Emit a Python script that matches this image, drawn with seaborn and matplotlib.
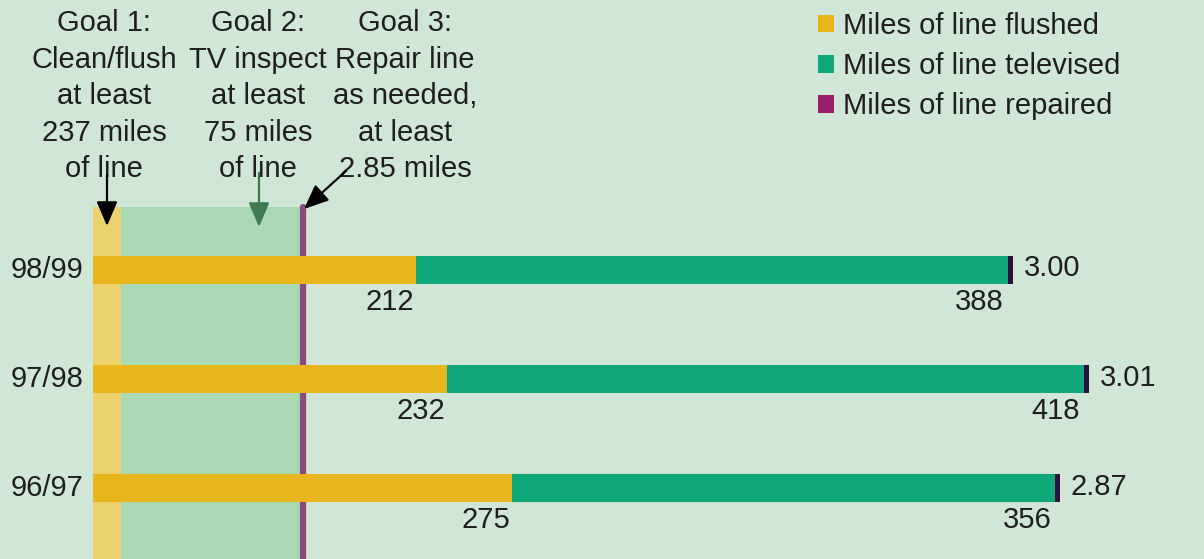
import numpy as np
import pandas as pd
import seaborn as sns
import matplotlib
matplotlib.use("Agg")
import matplotlib.pyplot as plt
from matplotlib.patches import Patch
from matplotlib.transforms import blended_transform_factory

# ---------------- data ----------------
years = ["98/99", "97/98", "96/97"]
flushed = [212, 232, 275]
televised = [388, 418, 356]
repaired = [3.00, 3.01, 2.87]
repaired_labels = ["3.00", "3.01", "2.87"]

series_labels = ["Miles of line flushed", "Miles of line televised", "Miles of line repaired"]
goal_lines = [
    ["Goal 1:", "Clean/flush", "at least", "237 miles", "of line"],
    ["Goal 2:", "TV inspect", "at least", "75 miles", "of line"],
    ["Goal 3:", "Repair line", "as needed,", "at least", "2.85 miles"],
]

# ---------------- styles / layout ----------------
BG = "#d0e6d6"
C_FL = "#e8b51c"
C_TV = "#10a878"
C_RP = "#2c0f3e"
C_RP_LEG = "#9a1c6c"
BAND1 = "#ead36c"
BAND2 = "#a9d9b2"
LINE3 = "#8c4a80"
TXT = "#1e1e1e"
FS = 21

W_PX, H_PX = 1204, 559
X0_PX = 93.0          # pixel of x = 0
K = 1.525             # pixels per mile
ROW0_PX = 269.5       # pixel centre of first row
ROW_SP = 109.25       # pixels between rows

def xd(px):
    return (px - X0_PX) / K

def yf(py):
    return (H_PX - py) / H_PX

df = pd.DataFrame({"year": years, "flushed": flushed,
                   "televised": televised, "repaired": repaired})
df["cum_tv"] = df["flushed"] + df["televised"]
df["cum_rp"] = df["cum_tv"] + df["repaired"]

sns.set_theme(style="white")
plt.rcParams["font.family"] = ["Liberation Sans", "DejaVu Sans"]

fig = plt.figure(figsize=(W_PX / 100, H_PX / 100), dpi=100, facecolor=BG)
ax = fig.add_axes([0, 0, 1, 1], facecolor=BG)

# goal bands (schematic)
band_top = yf(207)
b1_end = xd(121)
b2_end = xd(301)
ax.axvspan(0, b1_end, ymin=0, ymax=band_top, color=BAND1, lw=0, zorder=0)
ax.axvspan(b1_end, b2_end, ymin=0, ymax=band_top, color=BAND2, lw=0, zorder=0)
ax.axvline(b2_end + 1.5, ymin=0, ymax=band_top, color=LINE3, lw=4.5, zorder=0.5)

# stacked bars (cumulative overlay)
bw = 28 / ROW_SP
sns.barplot(data=df, x="cum_rp", y="year", color=C_RP, width=bw, ax=ax,
            saturation=1, errorbar=None, linewidth=0, zorder=2)
sns.barplot(data=df, x="cum_tv", y="year", color=C_TV, width=bw, ax=ax,
            saturation=1, errorbar=None, linewidth=0, zorder=3)
sns.barplot(data=df, x="flushed", y="year", color=C_FL, width=bw, ax=ax,
            saturation=1, errorbar=None, linewidth=0, zorder=4)

ax.set_xlim(xd(0), xd(W_PX))
ax.set_ylim(2 + (H_PX - (ROW0_PX + 2 * ROW_SP)) / ROW_SP, -ROW0_PX / ROW_SP)
ax.set_xlabel("")
ax.set_ylabel("")
ax.set_xticks([])
ax.set_yticks([])
for s in ax.spines.values():
    s.set_visible(False)

# category labels
for i, yr in enumerate(years):
    ax.annotate(yr, xy=(0, i), xytext=(-10, 0), textcoords="offset pixels",
                ha="right", va="center", fontsize=FS, color=TXT)

# value labels
for i in range(len(years)):
    ax.annotate(str(flushed[i]), xy=(df["flushed"][i], i), xytext=(-2, -32),
                textcoords="offset pixels", ha="right", va="center",
                fontsize=FS, color=TXT, zorder=6)
    ax.annotate(str(televised[i]), xy=(df["cum_tv"][i], i), xytext=(-4, -32),
                textcoords="offset pixels", ha="right", va="center",
                fontsize=FS, color=TXT, zorder=6)
    ax.annotate(repaired_labels[i], xy=(df["cum_rp"][i], i), xytext=(11, 1),
                textcoords="offset pixels", ha="left", va="center",
                fontsize=FS, color=TXT, zorder=6)

# goal texts
tr = blended_transform_factory(ax.transData, ax.transAxes)
goal_x_px = [104, 258, 405]
for gx, lines in zip(goal_x_px, goal_lines):
    for k, line in enumerate(lines):
        ax.text(xd(gx), yf(23 + 36.5 * k), line, transform=tr, ha="center",
                va="center", fontsize=FS, color=TXT, zorder=5)

# arrows
arrow_kw = dict(arrowstyle="-|>,head_length=0.75,head_width=0.32",
                lw=1.6, shrinkA=0, shrinkB=0, mutation_scale=20)
ax.annotate("", xy=(xd(107), yf(226)), xycoords=tr,
            xytext=(xd(107), yf(175)), textcoords=tr,
            arrowprops=dict(color="black", **arrow_kw), zorder=6)
ax.annotate("", xy=(xd(259), yf(227)), xycoords=tr,
            xytext=(xd(259), yf(173)), textcoords=tr,
            arrowprops=dict(color="#3f7a50", **arrow_kw), zorder=6)
ax.annotate("", xy=(xd(304), yf(209)), xycoords=tr,
            xytext=(xd(346), yf(171)), textcoords=tr,
            arrowprops=dict(color="black", **arrow_kw), zorder=6)

# legend
handles = [Patch(facecolor=C_FL, edgecolor="none"),
           Patch(facecolor=C_TV, edgecolor="none"),
           Patch(facecolor=C_RP_LEG, edgecolor="none")]
leg = fig.legend(handles, series_labels, loc="upper left",
                 bbox_to_anchor=(818 / W_PX, yf(12)), frameon=False,
                 fontsize=FS, handlelength=0.55, handleheight=0.55,
                 handletextpad=0.3, labelspacing=0.42, borderpad=0,
                 borderaxespad=0)
for t in leg.get_texts():
    t.set_color(TXT)

fig.savefig("out.png", dpi=100, facecolor=BG)
